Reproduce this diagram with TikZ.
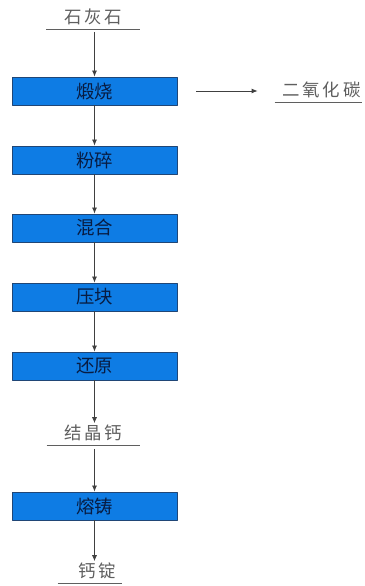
\documentclass[tikz,border=0pt]{standalone}
\usepackage{fontspec}
\usetikzlibrary{arrows.meta}
\newfontfamily\boxfont{Noto Sans CJK SC}
\newfontfamily\lblfont[LetterSpace=16]{Noto Sans CJK SC}
\definecolor{boxfill}{RGB}{14,124,228}
\definecolor{boxline}{RGB}{32,70,118}
\definecolor{boxtext}{RGB}{8,28,66}
\definecolor{lbltext}{RGB}{95,95,95}
\definecolor{arrowcol}{RGB}{64,64,64}
\tikzset{
  stepbox/.style={draw=boxline,fill=boxfill,line width=0.8bp,minimum width=165bp,minimum height=28bp,inner sep=0pt,text=boxtext,font=\boxfont\fontsize{18.5}{20}\selectfont},
  lbl/.style={anchor=south,inner xsep=0pt,inner ysep=2bp,text height=14bp,text depth=3bp,text=lbltext,font=\lblfont\fontsize{17.5}{20}\selectfont},
  uline/.style={draw=lbltext,line width=0.8bp},
}
\begin{document}
\begin{tikzpicture}[>={Latex[length=6bp,width=5bp]},line join=bevel,arrowcol,line width=0.8bp]
        \useasboundingbox (0bp,0bp) rectangle (365bp,586bp);
        %%
        \node (node_lime) at (93bp,557bp) [lbl,minimum width=93bp] {石灰石};
          \draw [uline] (node_lime.south west) -- (node_lime.south east);
          \node (node_calcine) at (94.5bp,495bp) [stepbox] {煅烧};
          \node (node_crush) at (94.5bp,426bp) [stepbox] {粉碎};
          \node (node_mix) at (94.5bp,358bp) [stepbox] {混合};
          \node (node_press) at (94.5bp,289bp) [stepbox] {压块};
          \node (node_reduce) at (94.5bp,220bp) [stepbox] {还原};
          \node (node_crystal) at (93.5bp,141bp) [lbl,minimum width=93bp] {结晶钙};
          \draw [uline] (node_crystal.south west) -- (node_crystal.south east);
          \node (node_cast) at (94.5bp,80bp) [stepbox] {熔铸};
          \node (node_ingot) at (90bp,3bp) [lbl,minimum width=64bp] {\hspace{14bp}钙锭};
          \draw [uline] (node_ingot.south west) -- (node_ingot.south east);
          \node (node_co2) at (318.5bp,484bp) [lbl,minimum width=87bp] {\hspace{6bp}二氧化碳};
          \draw [uline] (node_co2.south west) -- (node_co2.south east);
          %
          \draw [->,shorten <=3bp] (node_lime.south -| node_calcine.north) -- (node_calcine.north);
          \draw [->] (node_calcine) -- (node_crush);
          \draw [->] (node_crush) -- (node_mix);
          \draw [->] (node_mix) -- (node_press);
          \draw [->] (node_press) -- (node_reduce);
          \draw [->] (node_reduce) -- (node_reduce.south |- node_crystal.north);
          \draw [->,shorten <=4bp] (node_crystal.south -| node_cast.north) -- (node_cast.north);
          \draw [->] (node_cast) -- (node_cast.south |- node_ingot.north);
          \draw [->,shorten <=19bp,shorten >=17bp] (node_calcine.east) -- (node_calcine.east -| node_co2.west);
        %
        \end{tikzpicture}
\end{document}
